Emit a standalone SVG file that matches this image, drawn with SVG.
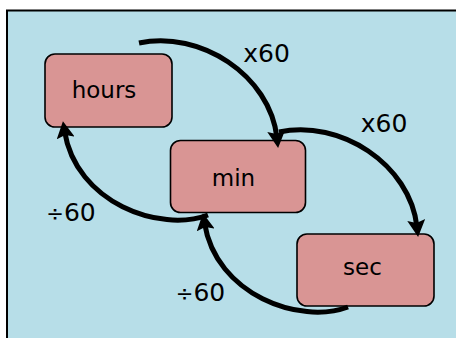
<svg xmlns="http://www.w3.org/2000/svg" width="456" height="338" viewBox="0 0 456 338">
<style>
.node rect{fill:#d99594;stroke:#000;stroke-width:1.6}
.node text{font-family:"Comic Sans MS","DejaVu Sans",sans-serif;font-size:23px;fill:#000;text-anchor:middle}
.conn path{fill:none;stroke:#000;stroke-width:5;marker-end:url(#ah)}
.lbl{font-family:"DejaVu Sans","Noto Sans",sans-serif;font-size:25px;fill:#000;text-anchor:middle}
.dv{font-size:21px}
</style>
<defs>
<marker id="ah" viewBox="0 0 17 18" markerWidth="17" markerHeight="18" refX="7" refY="9" orient="auto" markerUnits="userSpaceOnUse">
<path d="M0,0 L17,9 L0,18 L3,9 z" fill="#000"/>
</marker>
</defs>
<rect x="0" y="0" width="456" height="338" fill="#fff"/>
<rect x="7" y="10.5" width="460" height="340" fill="#b7dee8" stroke="#000" stroke-width="2"/>
<g id="hours" class="node">
<rect x="45" y="54" width="127" height="73" rx="10"/>
<text x="104" y="98">hours</text>
</g>
<g id="min" class="node">
<rect x="170.5" y="140.5" width="135" height="72" rx="10"/>
<text x="233.5" y="186">min</text>
</g>
<g id="sec" class="node">
<rect x="297" y="234" width="137" height="72" rx="10"/>
<text x="362.5" y="275">sec</text>
</g>
<g id="connectors" class="conn">
<path d="M139,43 C200,30 270,75 277,138"/>
<path d="M279,132 C340,119 410,164 417,227"/>
<path d="M348,307 C300,325 216,295 204.5,223"/>
<path d="M208,215 C160,233 76,203 64.5,131"/>
</g>
<g id="labels">
<text class="lbl" x="266.5" y="62">x60</text>
<text class="lbl" x="384" y="132">x60</text>
<text class="lbl" x="71" y="221"><tspan class="dv">÷</tspan>60</text>
<text class="lbl" x="200.5" y="301"><tspan class="dv">÷</tspan>60</text>
</g>
</svg>
